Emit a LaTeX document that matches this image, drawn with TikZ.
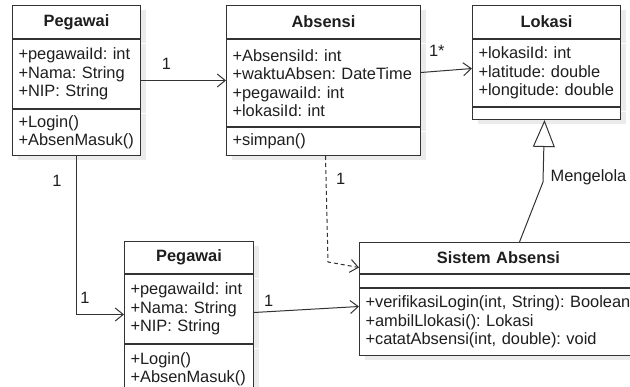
\documentclass[tikz,border=0pt]{standalone}
\usepackage{fontspec}
\setmainfont{Liberation Sans}
\usetikzlibrary{positioning,arrows.meta,shadows}
\definecolor{garis}{HTML}{333333}
\definecolor{teks}{HTML}{1E1E1E}
\definecolor{bayang}{HTML}{EBEBEB}
\frenchspacing

\begin{document}
\begin{tikzpicture}[x=1pt, y=-1pt, font=\fontsize{16.4}{18.5}\selectfont, text=teks,
    kotak/.style={draw=garis, line width=1pt, fill=white, anchor=north west,
      inner xsep=6pt, inner ysep=0pt, align=left,
      drop shadow={shadow xshift=5pt, shadow yshift=-5pt, fill=bayang, opacity=1}},
    judul/.style={kotak, align=center, font=\fontsize{16.4}{18.5}\selectfont\bfseries},
    ket/.style={inner sep=2pt},
    asosiasi/.style={draw=garis, line width=1pt, -{Straight Barb[length=8pt,width=13pt]}},
    bergantung/.style={asosiasi, dash pattern=on 4pt off 3pt},
    warisan/.style={draw=garis, line width=1pt, -{Triangle[open,length=27pt,width=22pt,fill=white]}}]
    \useasboundingbox (0,0) rectangle (630,387);
    \clip (0,0) rectangle (630,387);

    \node[judul, text width=116pt, minimum height=33pt] (peg1judul) at (12,5) {Pegawai};
    \node[kotak, text width=116pt, minimum height=69pt] (peg1atr) at (peg1judul.south west)
      {+pegawaiId: int\\+Nama: String\\+NIP: String};
    \node[kotak, text width=116pt, minimum height=46pt] (peg1met) at (peg1atr.south west)
      {+Login()\\+AbsenMasuk()};

    \node[judul, text width=182pt, minimum height=33pt] (absjudul) at (226,5) {Absensi};
    \node[kotak, text width=182pt, minimum height=87pt] (absatr) at (absjudul.south west)
      {+AbsensiId: int\\+waktuAbsen: DateTime\\+pegawaiId: int\\+lokasiId: int};
    \node[kotak, text width=182pt, minimum height=28pt] (absmet) at (absatr.south west)
      {+simpan()};

    \node[judul, text width=136pt, minimum height=33pt] (lokjudul) at (472,5) {Lokasi};
    \node[kotak, text width=136pt, minimum height=67pt] (lokatr) at (lokjudul.south west)
      {+lokasiId: int\\+latitude: double\\+longitude: double};
    \node[kotak, text width=136pt, minimum height=12pt] (lokmet) at (lokatr.south west) {};

    \node[judul, text width=117pt, minimum height=32pt] (peg2judul) at (124,241) {Pegawai};
    \node[kotak, text width=117pt, minimum height=69pt] (peg2atr) at (peg2judul.south west)
      {+pegawaiId: int\\+Nama: String\\+NIP: String};
    \node[kotak, text width=117pt, minimum height=50pt] (peg2met) at (peg2atr.south west)
      {+Login()\\+AbsenMasuk()};

    \node[judul, text width=266pt, minimum height=31pt] (sisjudul) at (359,242) {Sistem Absensi};
    \node[kotak, text width=266pt, minimum height=13pt] (sisatr) at (sisjudul.south west) {};
    \node[kotak, text width=266pt, minimum height=67pt] (sismet) at (sisatr.south west)
      {\mbox{+verifikasiLogin(int, String): Boolean}\\+ambilLlokasi(): Lokasi\\+catatAbsensi(int, double): void};

    \coordinate (tekuk) at (328,262);
    \coordinate (belok) at (543,182);

    \draw[asosiasi] ([yshift=-6.5pt]peg1atr.east) -- ([yshift=2.5pt]absatr.west)
      node[ket, pos=0.3, above=8pt] {1};
    \draw[asosiasi] ([yshift=10.5pt]absatr.east) -- ([yshift=4.5pt]lokatr.west)
      node[ket, pos=0.31, above=12pt] {1*};
    \draw[asosiasi] (peg1met.south) |- ([yshift=-5.5pt]peg2atr.west)
      node[ket, pos=0.08, left=12.5pt] {1}
      node[ket, pos=0.59, above=8pt] {1};
    \draw[bergantung] ([xshift=2pt]absmet.south) -- node[ket, pos=0.22, right=7.5pt] {1} (tekuk)
      -- ([yshift=-9.5pt]sisjudul.west);
    \draw[asosiasi] ([yshift=-3.5pt]peg2atr.east) -- ([yshift=15.5pt]sismet.west)
      node[ket, pos=0.14, above=3pt] {1};
    \draw[warisan] ([xshift=21pt]sisjudul.north) -- (belok)
      -- node[ket, pos=0.08, right=5pt] {Mengelola} ([xshift=-2pt]lokmet.south);
\end{tikzpicture}
\end{document}
